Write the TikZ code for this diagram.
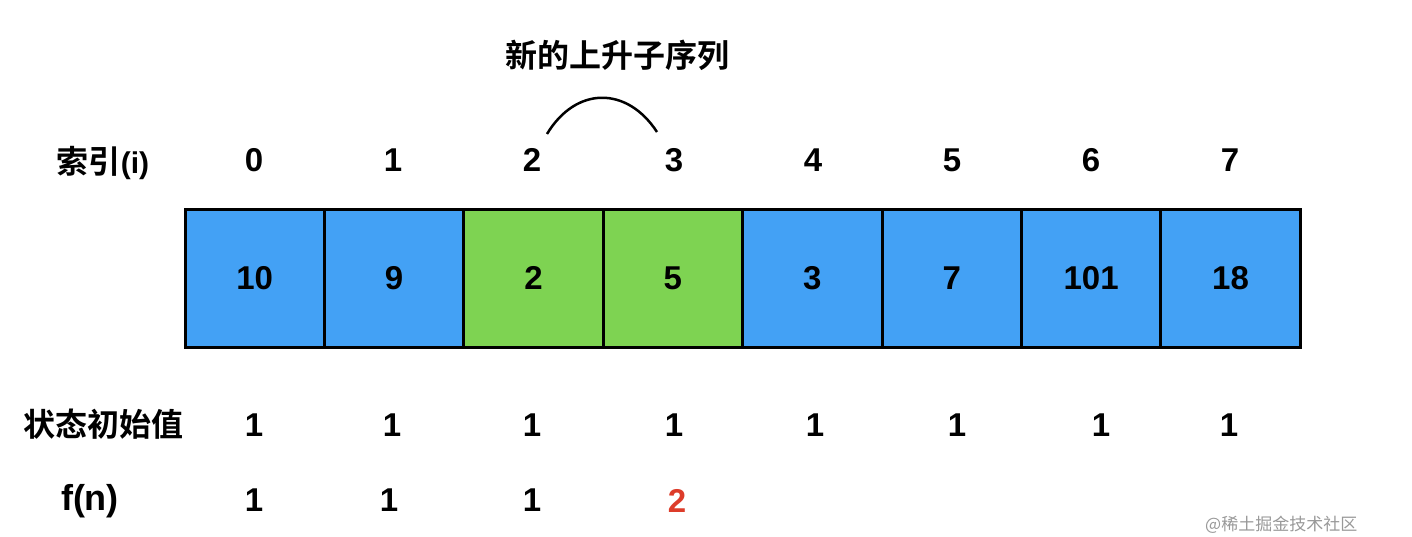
\documentclass[tikz,border=0pt]{standalone}
\usepackage{fontspec}
\setmainfont{Liberation Sans}
\newfontfamily\cjk{Noto Sans CJK SC}[BoldFont={Noto Sans CJK SC Bold}]
\definecolor{cblue}{RGB}{67,161,245}
\definecolor{cgreen}{RGB}{126,211,82}
\definecolor{cred}{RGB}{221,60,42}
\tikzset{
  cell/.style={draw=black, line width=3pt, minimum width=139.4pt, minimum height=138pt, inner sep=0pt, font=\fontsize{33}{33}\selectfont\bfseries},
  num/.style={inner sep=0pt, font=\fontsize{33}{33}\selectfont\bfseries},
  lab/.style={inner sep=0pt, font=\fontsize{32}{32}\selectfont\cjk\bfseries},
}
\begin{document}
\begin{tikzpicture}[x=1pt,y=-1pt]
\useasboundingbox (0,0) rectangle (1412,536);
\fill[white] (0,0) rectangle (1412,536);
% cells
\foreach \i/\v/\c in {0/10/cblue,1/9/cblue,2/2/cgreen,3/5/cgreen,4/3/cblue,5/7/cblue,6/101/cblue,7/18/cblue}{
  \node[cell, fill=\c] (c\i) at ({185+139.4*\i+69.7},278) {\v};
}
% index row
\node[lab] (li) at (103,163) {索引{\normalfont\bfseries\fontsize{30}{30}\selectfont(i)}};
\foreach \i/\x in {0/254,1/393,2/532,3/674,4/813,5/952,6/1091,7/1230}{
  \node[num] (i\i) at (\x,160) {\i};
}
% initial values
\node[lab] (lv) at (103,424) {状态初始值};
\foreach \i/\x in {0/254,1/392,2/532,3/674,4/815,5/957,6/1101,7/1229}{
  \node[num] (v\i) at (\x,425) {1};
}
% f(n)
\node[num, font=\fontsize{36}{36}\selectfont\bfseries] (lf) at (90,501) {f(n)};
\node[num] (f0) at (254,500) {1};
\node[num] (f1) at (389,500) {1};
\node[num] (f2) at (532,500) {1};
\node[num, text=cred] (f3) at (677,501) {2};
% title and arc
\node[lab] (t) at (617,55) {新的上升子序列};
\coordinate (a) at (547,134);
\coordinate (b) at (657,132);
\draw[line width=2.5pt] (a) .. controls (576,86) and (627,86) .. (b);
% watermark
\node[inner sep=0pt, text=black!40, font=\fontsize{17}{17}\selectfont\cjk, anchor=west] (wm) at (1205,525) {@稀土掘金技术社区};
\end{tikzpicture}
\end{document}
